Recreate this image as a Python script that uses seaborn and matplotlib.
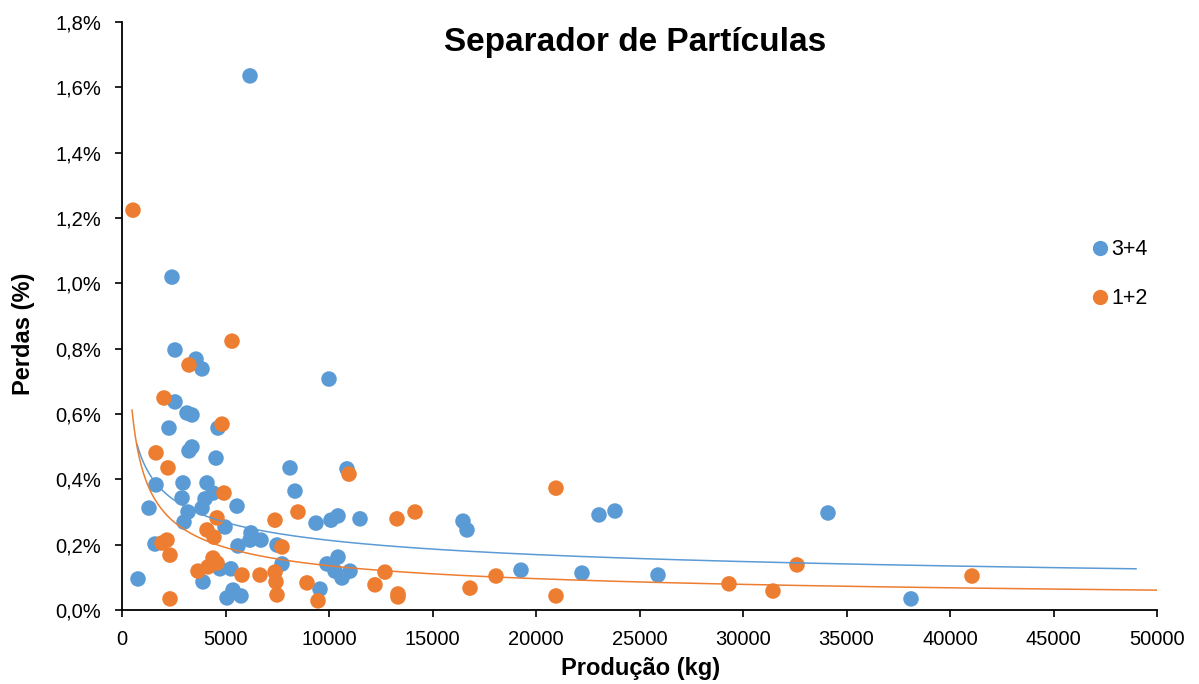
import numpy as np
import pandas as pd
import matplotlib
matplotlib.use("Agg")
import matplotlib.pyplot as plt
import seaborn as sns
from matplotlib.ticker import FuncFormatter, MultipleLocator

# ---- data (Produção in kg, Perdas in %) ----
x_34 = [6184, 2415, 2560, 3575, 3865, 10000, 2560, 3140, 3380, 2270, 4638, 3380, 3237,
        4541, 8116, 10870, 1643, 2947, 4106, 8357, 4396, 2899, 4010, 1304, 3865, 5556,
        3188, 2995, 4976, 9372, 10097, 10435, 11498, 16473, 16667, 23043, 23816, 34106,
        6232, 6715, 6184, 5604, 7488, 1594, 7729, 9903, 10435, 10290, 11014, 10628,
        19275, 22222, 25894, 5266, 4734, 3913, 773, 5362, 5072, 5749, 9565, 38116]
y_34 = [1.635, 1.019, 0.796, 0.768, 0.738, 0.707, 0.637, 0.603, 0.597, 0.557, 0.557, 0.499,
        0.487, 0.465, 0.435, 0.432, 0.383, 0.389, 0.389, 0.364, 0.358, 0.343, 0.340, 0.312,
        0.312, 0.318, 0.300, 0.269, 0.254, 0.266, 0.275, 0.288, 0.279, 0.272, 0.245, 0.291,
        0.303, 0.297, 0.236, 0.214, 0.214, 0.196, 0.199, 0.202, 0.141, 0.141, 0.162, 0.119,
        0.119, 0.098, 0.122, 0.113, 0.107, 0.126, 0.126, 0.086, 0.095, 0.061, 0.037, 0.043,
        0.064, 0.034]

x_12 = [531, 5314, 3237, 2029, 4831, 1643, 2222, 10966, 20966, 4928, 8502, 14155, 13285,
        7391, 4589, 4106, 4444, 2174, 1932, 7729, 2319, 4396, 4589, 4155, 3671, 5797, 6667,
        7391, 7440, 7488, 12705, 12222, 8937, 9469, 13333, 13333, 16812, 18068, 20966,
        29324, 31449, 32609, 41063, 2319]
y_12 = [1.224, 0.823, 0.750, 0.649, 0.569, 0.481, 0.435, 0.416, 0.373, 0.358, 0.300, 0.300,
        0.279, 0.275, 0.282, 0.245, 0.223, 0.214, 0.205, 0.193, 0.168, 0.159, 0.144, 0.132,
        0.119, 0.107, 0.107, 0.116, 0.086, 0.046, 0.116, 0.077, 0.083, 0.028, 0.049, 0.040,
        0.067, 0.104, 0.043, 0.080, 0.058, 0.138, 0.104, 0.034]

series_names = ["3+4", "1+2"]
series_colors = ["#5B9BD5", "#ED7D31"]
trend_ranges = {"3+4": (725, 49000), "1+2": (483, 50000)}
x_ticks = list(range(0, 50001, 5000))

df = pd.DataFrame({
    "Produção (kg)": x_34 + x_12,
    "Perdas (%)": y_34 + y_12,
    "Série": ["3+4"] * len(x_34) + ["1+2"] * len(x_12),
})

sns.set_theme(style="white")
plt.rcParams["font.family"] = ["Liberation Sans", "DejaVu Sans"]
plt.rcParams["text.color"] = "black"

fig = plt.figure(figsize=(11.99, 6.84), dpi=100)
ax = fig.add_axes([122 / 1199, 1 - 610 / 684, (1157 - 122) / 1199, (610 - 22) / 684])

palette = dict(zip(series_names, series_colors))
sns.scatterplot(data=df, x="Produção (kg)", y="Perdas (%)", hue="Série",
                hue_order=series_names, palette=palette, s=125, linewidth=0,
                ax=ax, zorder=3, legend=False)

# power trendlines (fitted on the data, like Excel's "Power" trendline)
for name, xs, ys in [("3+4", x_34, y_34), ("1+2", x_12, y_12)]:
    b, ln_a = np.polyfit(np.log(xs), np.log(ys), 1)
    lo, hi = trend_ranges[name]
    xx = np.linspace(lo, hi, 600)
    ax.plot(xx, np.exp(ln_a) * xx ** b, color=palette[name], lw=1.1, zorder=4)

ax.set_xlim(0, 50000)
ax.set_ylim(0, 1.8)
ax.set_xticks(x_ticks)
ax.yaxis.set_major_locator(MultipleLocator(0.2))
ax.yaxis.set_major_formatter(FuncFormatter(lambda v, p: f"{v:.1f}%".replace(".", ",")))
ax.xaxis.set_major_formatter(FuncFormatter(lambda v, p: f"{int(v)}"))
ax.tick_params(axis="both", labelsize=14.5, colors="#000000", direction="out",
               length=5, width=1.2, left=True, bottom=True)
ax.tick_params(axis="y", pad=10)
ax.tick_params(axis="x", pad=9.5)

for s in ["top", "right"]:
    ax.spines[s].set_visible(False)
for s in ["left", "bottom"]:
    ax.spines[s].set_color("#000000")
    ax.spines[s].set_linewidth(1.3)
ax.grid(False)

ax.set_xlabel("Produção (kg)", fontsize=17, fontweight="bold", color="black")
ax.set_ylabel("Perdas (%)", fontsize=17, fontweight="bold", color="black")
ax.xaxis.label.set_va("center")
ax.yaxis.label.set_va("center")
ax.xaxis.set_label_coords((641 - 122) / 1035, (610 - 668) / 588)
ax.yaxis.set_label_coords(-(122 - 24) / 1035, (610 - 334) / 588)

ax.text((635 - 122) / 1035, (610 - 43) / 588, "Separador de Partículas",
        transform=ax.transAxes, ha="center", va="center", fontsize=24,
        fontweight="bold", color="black")

handles = [plt.Line2D([], [], marker="o", ls="", markersize=11, color=c, markeredgewidth=0)
           for c in series_colors]
ax.legend(handles, series_names, loc="center left", bbox_to_anchor=(0.9155, 0.571),
          frameon=False, fontsize=15.5, labelspacing=1.3, handletextpad=0.05,
          handlelength=1.0, labelcolor="black")

fig.savefig("out.png", dpi=100)
